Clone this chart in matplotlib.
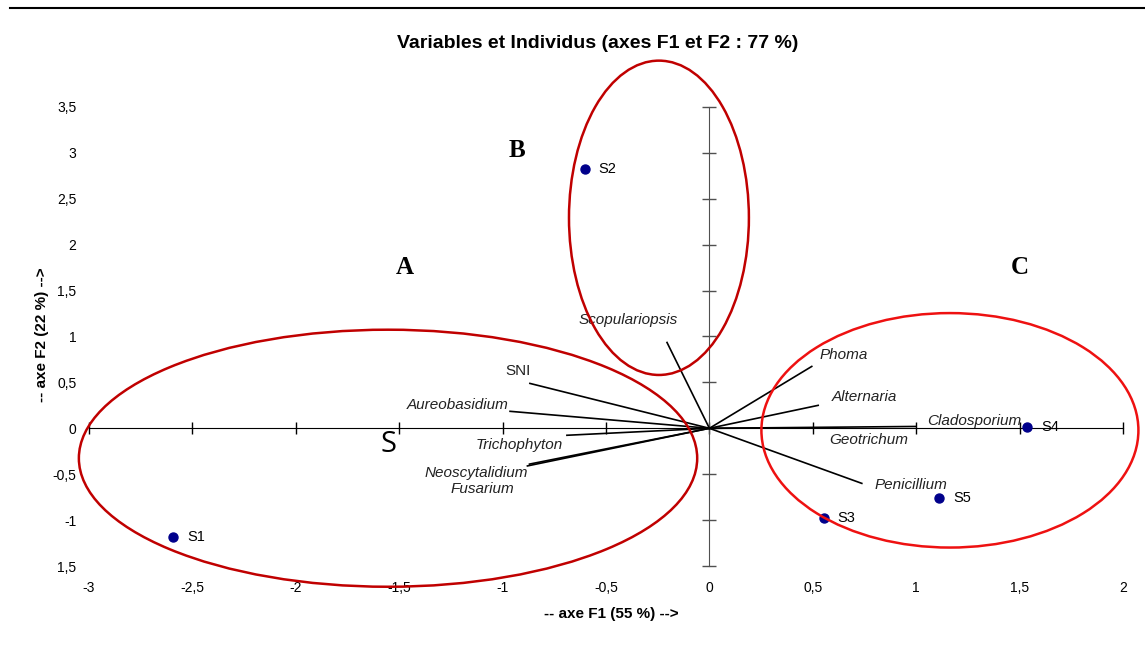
import matplotlib
matplotlib.use('Agg')
import matplotlib.pyplot as plt
from matplotlib.patches import Ellipse
from matplotlib.lines import Line2D

plt.rcParams['font.family'] = ['Liberation Sans', 'DejaVu Sans']

# observations (individus)
obs_names = ['S1', 'S2', 'S3', 'S4', 'S5']
obs_f1 = [-2.594, -0.603, 0.553, 1.536, 1.110]
obs_f2 = [-1.185, 2.826, -0.978, 0.010, -0.761]

# variables (vecteurs)
var_names = ['Scopulariopsis', 'SNI', 'Aureobasidium', 'Trichophyton', 'Neoscytalidium',
             'Fusarium', 'Phoma', 'Alternaria', 'Cladosporium', 'Geotrichum', 'Penicillium']
var_f1 = [-0.205, -0.868, -0.964, -0.689, -0.880, -0.870, 0.495, 0.526, 0.995, 0.510, 0.737]
var_f2 = [0.935, 0.489, 0.185, -0.076, -0.410, -0.390, 0.674, 0.250, 0.020, 0.005, -0.600]

# groupes (ellipses dessinees a la main) : centre, largeur, hauteur
group_names = ['A', 'B', 'C']
group_cx = [-1.554, -0.244, 1.163]
group_cy = [-0.326, 2.293, -0.022]
group_w = [2.99, 0.87, 1.823]
group_h = [2.80, 3.424, 2.554]

xticks = [-3, -2.5, -2, -1.5, -1, -0.5, 0, 0.5, 1, 1.5, 2]
xticklabels = ['-3', '-2,5', '-2', '-1,5', '-1', '-0,5', '0', '0,5', '1', '1,5', '2']
yticks = [3.5, 3, 2.5, 2, 1.5, 1, 0.5, 0, -0.5, -1, -1.5]
yticklabels = ['3,5', '3', '2,5', '2', '1,5', '1', '0,5', '0', '-0,5', '-1', '1,5']

W, H = 1145, 650
fig = plt.figure(figsize=(W / 100, H / 100), dpi=100)
ax = fig.add_axes([89 / W, 1 - 566 / H, 1034 / W, 459 / H])
ax.set_xlim(-3, 2)
ax.set_ylim(-1.5, 3.5)

# axes croisees a l'origine
ax.spines['top'].set_visible(False)
ax.spines['right'].set_visible(False)
ax.spines['left'].set_position(('data', 0))
ax.spines['bottom'].set_position(('data', 0))
ax.spines['bottom'].set_color('black')
ax.spines['left'].set_color('#505050')
ax.set_xticks(xticks)
ax.set_yticks(yticks)
ax.tick_params(axis='x', direction='inout', length=9, width=1, color='black', labelbottom=False)
ax.tick_params(axis='y', direction='inout', length=10, width=1, color='#505050', labelleft=False)

# etiquettes sur les bords (style Excel)
secx = ax.secondary_xaxis('bottom')
secx.set_xticks(xticks, xticklabels)
secx.spines['bottom'].set_visible(False)
secx.tick_params(length=0, pad=11, labelsize=10)
secy = ax.secondary_yaxis('left')
secy.set_yticks(yticks, yticklabels)
secy.spines['left'].set_visible(False)
secy.tick_params(length=0, pad=9, labelsize=10)

# vecteurs des variables ; decalages des etiquettes en pixels (y vers le bas)
label_offsets = {
    'Scopulariopsis': ((-39, -22), 'center'),
    'SNI': ((-12, -12), 'center'),
    'Aureobasidium': ((-1, -6), 'right'),
    'Trichophyton': ((-4, 10), 'right'),
    'Neoscytalidium': ((1, 7), 'right'),
    'Fusarium': ((-47, 25), 'center'),
    'Phoma': ((8, -11), 'left'),
    'Alternaria': ((14, -8), 'left'),
    'Cladosporium': ((12, -5), 'left'),
    'Geotrichum': ((14, 12), 'left'),
    'Penicillium': ((13, 2), 'left'),
}
for name, x, y in zip(var_names, var_f1, var_f2):
    ax.plot([0, x], [0, y], color='black', lw=1.2, zorder=3)
    off, ha = label_offsets[name]
    style = 'normal' if name == 'SNI' else 'italic'
    ax.annotate(name, (x, y), xytext=(off[0], -off[1]), textcoords='offset pixels',
                ha=ha, va='center', fontsize=11, style=style, color='#222222')

# individus
ax.scatter(obs_f1, obs_f2, s=42, color='#00008b', zorder=4)
for name, x, y in zip(obs_names, obs_f1, obs_f2):
    ax.annotate(name, (x, y), xytext=(14, 0), textcoords='offset pixels',
                ha='left', va='center', fontsize=10.5)

# ellipses des groupes
ellipse_colors = ['#c00000', '#c00000', '#ee1111']
for cx, cy, w, h, c in zip(group_cx, group_cy, group_w, group_h, ellipse_colors):
    ax.add_patch(Ellipse((cx, cy), w, h, fill=False, edgecolor=c, lw=1.8, clip_on=False, zorder=5))

letter_pos = [(405 / W, 1 - 268 / H), (517 / W, 1 - 150 / H), (1020 / W, 1 - 268 / H)]
for name, (px, py) in zip(group_names, letter_pos):
    fig.text(px, py, name, ha='center', va='center', fontsize=18, fontweight='bold',
             family='Liberation Serif')
fig.text(388 / W, 1 - 444 / H, 'S', ha='center', va='center', fontsize=21, family='Open Sans')

fig.text(598 / W, 1 - 44 / H, 'Variables et Individus (axes F1 et F2 : 77 %)',
         ha='center', va='center', fontsize=14, fontweight='bold')
fig.text(611 / W, 1 - 614 / H, '-- axe F1 (55 %) -->', ha='center', va='center',
         fontsize=11, fontweight='bold')
fig.text(42 / W, 1 - 335 / H, '-- axe F2 (22 %) -->', ha='center', va='center',
         fontsize=11, fontweight='bold', rotation=90)

fig.add_artist(Line2D([10 / W, 1], [1 - 8 / H, 1 - 8 / H], color='black', lw=1.5))

fig.savefig('out.png', dpi=100)
